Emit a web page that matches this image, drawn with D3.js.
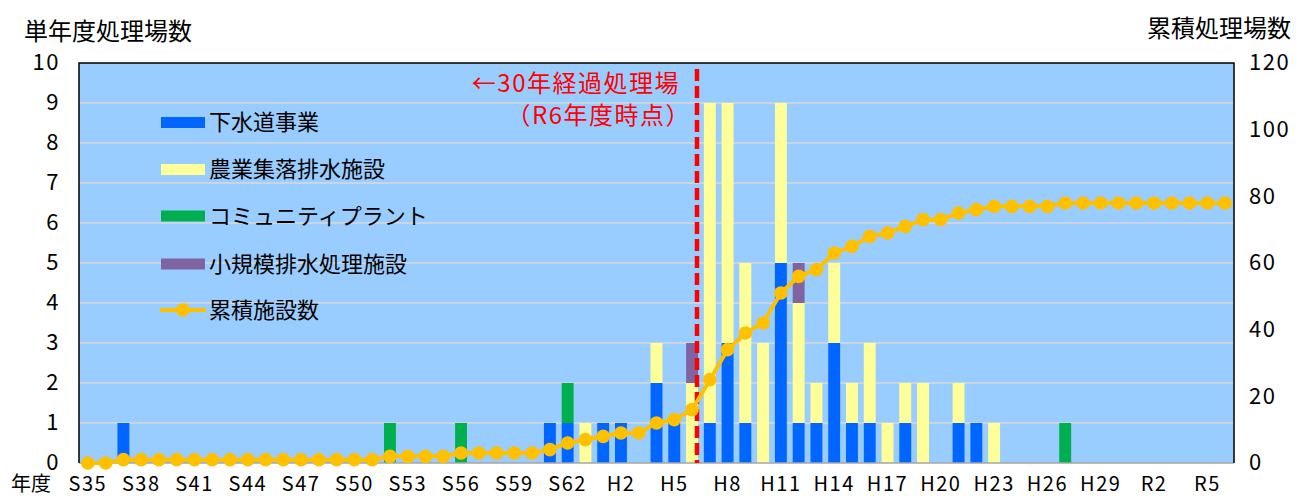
<!DOCTYPE html>
<html>
<head>
<meta charset="utf-8">
<script src="https://cdn.jsdelivr.net/npm/d3@7"></script>
<style>
  body { margin: 0; background: #fff; }
  text { font-family: "Noto Sans CJK JP", "Noto Sans", sans-serif; fill: #000; }
</style>
</head>
<body>
<div id="chart"></div>
<script>
// Fiscal years S35 .. R6
var years = [
  "S35","S36","S37","S38","S39","S40","S41","S42","S43","S44",
  "S45","S46","S47","S48","S49","S50","S51","S52","S53","S54",
  "S55","S56","S57","S58","S59","S60","S61","S62","S63","H1",
  "H2","H3","H4","H5","H6","H7","H8","H9","H10","H11",
  "H12","H13","H14","H15","H16","H17","H18","H19","H20","H21",
  "H22","H23","H24","H25","H26","H27","H28","H29","H30","R1",
  "R2","R3","R4","R5","R6"
];

// 下水道事業
var sewer = [
  0,0,1,0,0,0,0,0,0,0,
  0,0,0,0,0,0,0,0,0,0,
  0,0,0,0,0,0,1,1,0,1,
  1,0,2,1,0,1,3,1,0,5,
  1,1,3,1,1,0,1,0,0,1,
  1,0,0,0,0,0,0,0,0,0,
  0,0,0,0,0
];

// 農業集落排水施設
var agri = [
  0,0,0,0,0,0,0,0,0,0,
  0,0,0,0,0,0,0,0,0,0,
  0,0,0,0,0,0,0,0,1,0,
  0,0,1,0,2,8,6,4,3,4,
  3,1,2,1,2,1,1,2,0,1,
  0,1,0,0,0,0,0,0,0,0,
  0,0,0,0,0
];

// コミュニティプラント
var community = [
  0,0,0,0,0,0,0,0,0,0,
  0,0,0,0,0,0,0,1,0,0,
  0,1,0,0,0,0,0,1,0,0,
  0,0,0,0,0,0,0,0,0,0,
  0,0,0,0,0,0,0,0,0,0,
  0,0,0,0,0,1,0,0,0,0,
  0,0,0,0,0
];

// 小規模排水処理施設
var small = [
  0,0,0,0,0,0,0,0,0,0,
  0,0,0,0,0,0,0,0,0,0,
  0,0,0,0,0,0,0,0,0,0,
  0,0,0,0,1,0,0,0,0,0,
  1,0,0,0,0,0,0,0,0,0,
  0,0,0,0,0,0,0,0,0,0,
  0,0,0,0,0
];

// 累積施設数
var cumulative = [
  0,0,1,1,1,1,1,1,1,1,
  1,1,1,1,1,1,1,2,2,2,
  2,3,3,3,3,3,4,6,7,8,
  9,9,12,13,16,25,34,39,42,51,
  56,58,63,65,68,69,71,73,73,75,
  76,77,77,77,77,78,78,78,78,78,
  78,78,78,78,78
];

var leftTicks = [0,1,2,3,4,5,6,7,8,9,10];
var rightTicks = [0,20,40,60,80,100,120];
var seriesNames = ["下水道事業","農業集落排水施設","コミュニティプラント","小規模排水処理施設"];
var seriesColors = ["#0066FF","#FFFF99","#00B050","#8064A2"];
var lineName = "累積施設数";
var lineColor = "#FFC000";

var width = 1303,
    height = 496;
var plot = {left: 79, right: 1234, top: 63, bottom: 463};

var svg = d3.select("#chart")
  .append("svg")
    .attr("width", width)
    .attr("height", height);

// scales
var x = d3.scaleBand()
  .domain(years)
  .range([plot.left, plot.right])
  .paddingInner(0.33)
  .paddingOuter(0.165);

var yLeft = d3.scaleLinear().domain([0, 10]).range([plot.bottom, plot.top]);
var yRight = d3.scaleLinear().domain([0, 120]).range([plot.bottom, plot.top]);

// plot background
svg.append("rect")
  .attr("x", plot.left)
  .attr("y", plot.top)
  .attr("width", plot.right - plot.left)
  .attr("height", plot.bottom - plot.top)
  .attr("fill", "#99CCFF");

// gridlines
svg.selectAll(".grid")
  .data(leftTicks.slice(1, -1))
  .enter()
  .append("line")
    .attr("x1", plot.left)
    .attr("x2", plot.right)
    .attr("y1", function(d) { return yLeft(d); })
    .attr("y2", function(d) { return yLeft(d); })
    .attr("stroke", "#D9D9D9")
    .attr("stroke-width", 1.5);

// stack data
var table = years.map(function(y, i) {
  return {year: y, s0: sewer[i], s1: agri[i], s2: community[i], s3: small[i]};
});
var stack = d3.stack().keys(["s0","s1","s2","s3"]);
var stacked = stack(table);

svg.selectAll(".layer")
  .data(stacked)
  .enter()
  .append("g")
    .attr("fill", function(d, i) { return seriesColors[i]; })
  .selectAll("rect")
  .data(function(d) { return d.filter(function(p) { return p[1] > p[0]; }); })
  .enter()
  .append("rect")
    .attr("x", function(d) { return x(d.data.year); })
    .attr("width", x.bandwidth())
    .attr("y", function(d) { return yLeft(d[1]); })
    .attr("height", function(d) { return yLeft(d[0]) - yLeft(d[1]); });

// plot frame
svg.append("line")
  .attr("x1", plot.left).attr("x2", plot.right)
  .attr("y1", plot.bottom).attr("y2", plot.bottom)
  .attr("stroke", "#A6A6A6").attr("stroke-width", 1.5);
svg.append("path")
  .attr("d", "M" + plot.left + "," + plot.bottom + "V" + plot.top + "H" + plot.right + "V" + plot.bottom)
  .attr("fill", "none")
  .attr("stroke", "#000")
  .attr("stroke-width", 1.5);

// 30 year marker
var markX = x("H6") + x.bandwidth() - 1;
svg.append("line")
  .attr("x1", markX).attr("x2", markX)
  .attr("y1", plot.top + 6).attr("y2", plot.bottom)
  .attr("stroke", "#FF0000")
  .attr("stroke-width", 4.5)
  .attr("stroke-dasharray", "12,5");

svg.append("text")
  .attr("x", markX - 17)
  .attr("y", 92)
  .attr("text-anchor", "end")
  .style("font-size", "24px")
  .style("letter-spacing", "1.5px")
  .style("fill", "#FF0000")
  .text("←30年経過処理場");
svg.append("text")
  .attr("x", markX - 6)
  .attr("y", 124)
  .attr("text-anchor", "end")
  .style("font-size", "24px")
  .style("letter-spacing", "1.5px")
  .style("fill", "#FF0000")
  .text("（R6年度時点）");

// cumulative line
var line = d3.line()
  .x(function(d, i) { return x(years[i]) + x.bandwidth() / 2; })
  .y(function(d) { return yRight(d); });

svg.append("path")
  .datum(cumulative)
  .attr("d", line)
  .attr("fill", "none")
  .attr("stroke", lineColor)
  .attr("stroke-width", 4);

svg.selectAll(".dot")
  .data(cumulative)
  .enter()
  .append("circle")
    .attr("cx", function(d, i) { return x(years[i]) + x.bandwidth() / 2; })
    .attr("cy", function(d) { return yRight(d); })
    .attr("r", 6.8)
    .attr("fill", lineColor);

// left axis labels
svg.selectAll(".ltick")
  .data(leftTicks)
  .enter()
  .append("text")
    .attr("x", 60)
    .attr("y", function(d) { return yLeft(d); })
    .attr("dy", "0.34em")
    .attr("text-anchor", "end")
    .style("font-size", "22px")
    .style("letter-spacing", "1.5px")
    .text(function(d) { return d; });

// right axis labels
svg.selectAll(".rtick")
  .data(rightTicks)
  .enter()
  .append("text")
    .attr("x", 1249)
    .attr("y", function(d) { return yRight(d); })
    .attr("dy", "0.34em")
    .style("font-size", "22px")
    .style("letter-spacing", "1.5px")
    .text(function(d) { return d; });

// x labels every 3 years
svg.selectAll(".xtick")
  .data(years.filter(function(d, i) { return i % 3 == 0; }))
  .enter()
  .append("text")
    .attr("x", function(d) { return x(d) + x.bandwidth() / 2; })
    .attr("y", 491)
    .attr("text-anchor", "middle")
    .style("font-size", "20px")
    .style("letter-spacing", "1.5px")
    .text(function(d) { return d; });

svg.append("text")
  .attr("x", 11).attr("y", 491)
  .style("font-size", "20px")
  .text("年度");

// axis titles
svg.append("text")
  .attr("x", 24).attr("y", 40)
  .style("font-size", "24px")
  .text("単年度処理場数");
svg.append("text")
  .attr("x", 1291).attr("y", 37)
  .attr("text-anchor", "end")
  .style("font-size", "24px")
  .text("累積処理場数");

// legend
var legendY = [122.5, 169.5, 216, 264];
var legend = svg.append("g");
seriesNames.forEach(function(name, i) {
  legend.append("rect")
    .attr("x", 161).attr("y", legendY[i] - 5.5)
    .attr("width", 44).attr("height", 11)
    .attr("fill", seriesColors[i]);
  legend.append("text")
    .attr("x", 209).attr("y", legendY[i])
    .attr("dy", "0.36em")
    .style("font-size", "22px")
    .text(name);
});
legend.append("line")
  .attr("x1", 160).attr("x2", 206)
  .attr("y1", 310).attr("y2", 310)
  .attr("stroke", lineColor)
  .attr("stroke-width", 4);
legend.append("circle")
  .attr("cx", 183).attr("cy", 310).attr("r", 6.8)
  .attr("fill", lineColor);
legend.append("text")
  .attr("x", 209).attr("y", 310)
  .attr("dy", "0.36em")
  .style("font-size", "22px")
  .text(lineName);
</script>
</body>
</html>
